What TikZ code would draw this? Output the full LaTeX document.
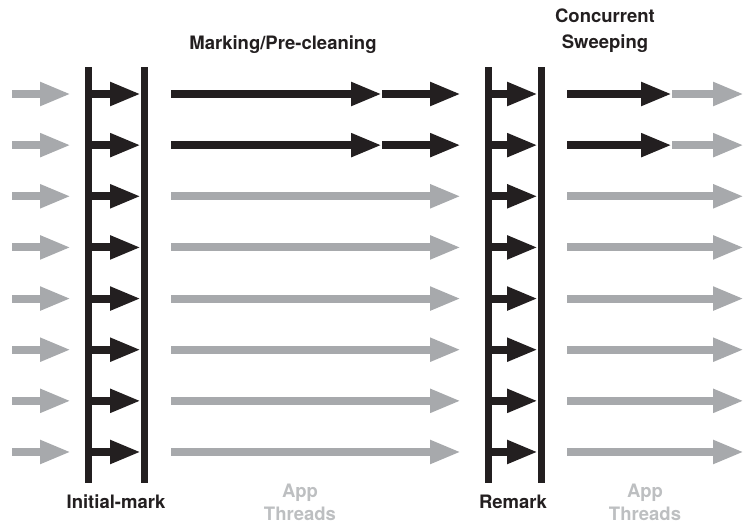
\documentclass[tikz,border=0pt]{standalone}
\usepackage{fontspec}
\setmainfont{TeX Gyre Heros}
\usetikzlibrary{arrows.meta}
\definecolor{ink}{HTML}{231F20}
\definecolor{appgray}{HTML}{A7A9AC}
\definecolor{textgray}{HTML}{BDBFC1}

\begin{document}
\begin{tikzpicture}[x=1pt,y=-1pt,
    thread/.style={line width=8pt,-{Triangle[length=31pt,width=22pt]}},
    app/.style={thread,appgray},
    gc/.style={thread,ink},
    bar/.style={draw=ink,line width=7pt},
    phase/.style={font=\fontsize{18.5}{26}\selectfont\bfseries,align=center,text=ink,inner sep=0pt},
    idle/.style={phase,font=\fontsize{18.5}{23}\selectfont\bfseries,text=textgray}]
    \useasboundingbox (0,0) rectangle (744,525);
    % pause bars
    \foreach \x/\n in {88.5/ia,144/ib,488/ra,541.5/rb}{
        \coordinate (\n top) at (\x,67);
        \coordinate (\n bot) at (\x,483);
        \draw[bar] (\n top) -- (\n bot);
    }
    \foreach \i in {1,...,8}{
        \pgfmathsetmacro\y{94+(\i-1)*51.14}
        \coordinate (in\i) at (12,\y);
        \coordinate (iw\i) at (71,\y);
        \coordinate (ia\i) at (88.5,\y);
        \coordinate (ib\i) at (141,\y);
        \coordinate (m\i) at (171,\y);
        \coordinate (mm\i) at (382,\y);
        \coordinate (me\i) at (461,\y);
        \coordinate (ra\i) at (488,\y);
        \coordinate (rb\i) at (538,\y);
        \coordinate (sw\i) at (567,\y);
        \coordinate (sm\i) at (672,\y);
        \coordinate (se\i) at (744,\y);
        \draw[app] (in\i) -- (iw\i);
        \draw[gc] (ia\i) -- (ib\i);
        \draw[gc] (ra\i) -- (rb\i);
    }
    \foreach \i in {1,2}{
        \draw[gc] (m\i) -- (mm\i);
        \draw[gc] (mm\i) -- (me\i);
        \draw[gc] (sw\i) -- (sm\i);
        \draw[app] (sm\i) -- (se\i);
    }
    \foreach \i in {3,...,8}{
        \draw[app] (m\i) -- (me\i);
        \draw[app] (sw\i) -- (se\i);
    }
    \node[phase] (marking) at (283,45) {Marking/Pre-cleaning};
    \node[phase] (sweeping) at (605,31) {Concurrent\\Sweeping};
    \node[phase] (initial) at (116,502) {Initial-mark};
    \node[idle] (app1) at (300,502) {App\\Threads};
    \node[phase] (remark) at (513,502) {Remark};
    \node[idle] (app2) at (645,502) {App\\Threads};
\end{tikzpicture}
\end{document}
